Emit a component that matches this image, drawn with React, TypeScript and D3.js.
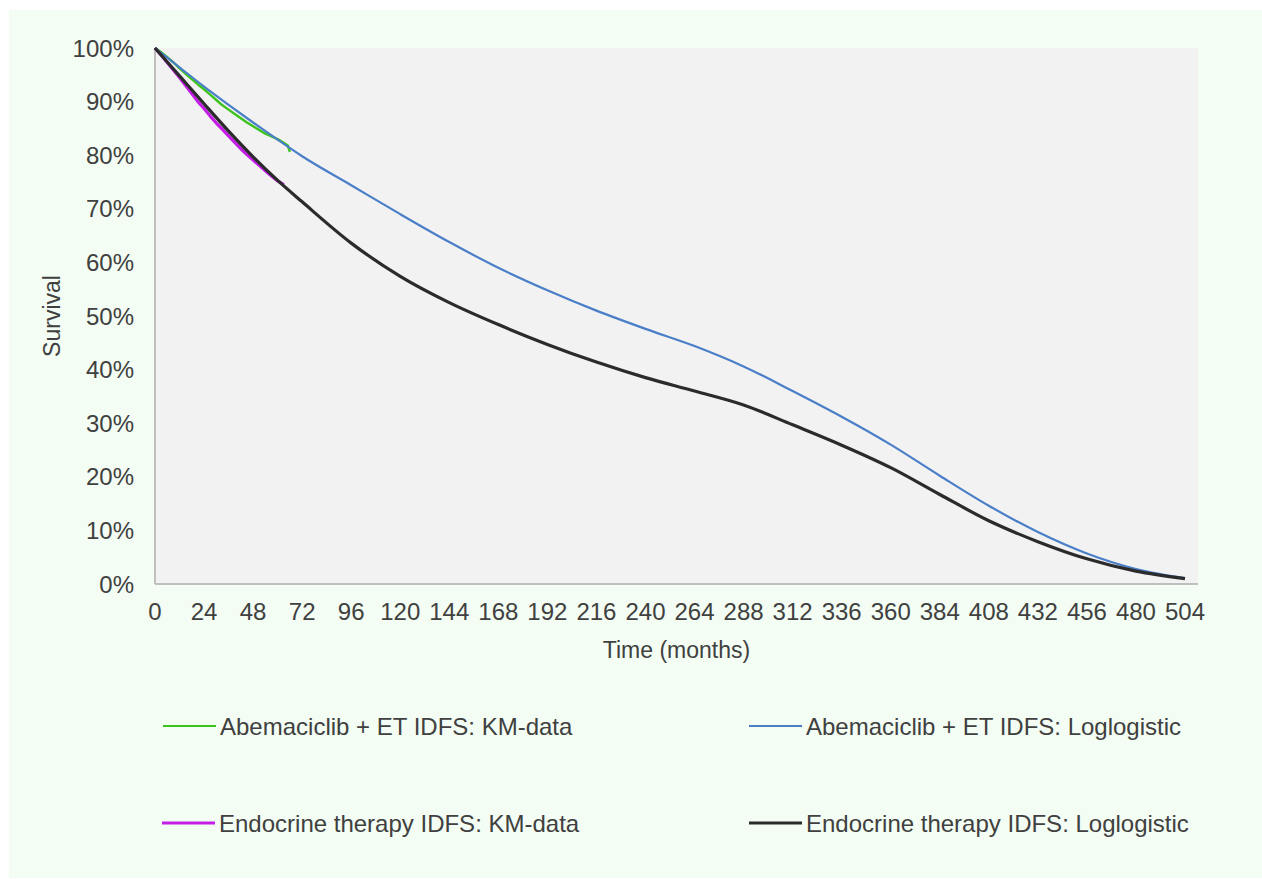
import React from "react";
import * as d3 from "d3";

// ---- Data ----
const months = [0, 12, 24, 36, 48, 60, 72, 96, 120, 144, 168, 192, 216, 240, 264, 288, 312, 336, 360, 384, 408, 432, 456, 480, 504];
const abemaLoglogistic = [100, 96.4, 92.8, 89.4, 86.1, 82.9, 79.8, 74.4, 69.0, 63.8, 59.0, 54.8, 51.0, 47.6, 44.4, 40.6, 36.0, 31.2, 26.0, 20.2, 14.6, 9.7, 5.7, 2.8, 1.1];
const etLoglogistic = [100, 94.8, 89.6, 84.5, 79.7, 75.3, 71.3, 63.6, 57.4, 52.5, 48.4, 44.7, 41.4, 38.5, 36.0, 33.4, 29.7, 25.9, 21.7, 16.7, 11.8, 7.9, 4.7, 2.4, 1.0];

const abemaKmMonths = [0, 3, 6, 9, 12, 15, 18, 21, 24, 27, 30, 33, 36, 39, 42, 45, 48, 51, 54, 57, 60, 63, 65, 66];
const abemaKm = [100, 99.2, 98.3, 97.3, 96.2, 95.2, 94.2, 93.2, 92.3, 91.3, 90.3, 89.3, 88.5, 87.7, 86.9, 86.1, 85.4, 84.7, 84.0, 83.5, 83.0, 82.3, 81.8, 80.6];
const etKmMonths = [0, 3, 6, 9, 12, 15, 18, 21, 24, 27, 30, 33, 36, 39, 42, 45, 48, 51, 54, 57, 60, 63];
const etKm = [100, 98.7, 97.3, 95.9, 94.5, 93.0, 91.5, 90.0, 88.7, 87.3, 86.0, 84.8, 83.6, 82.4, 81.2, 80.1, 79.1, 78.1, 77.1, 76.1, 75.2, 74.5];

const xTicks = d3.range(0, 505, 24);
const yTicks = d3.range(0, 101, 10);

const legendLabels = [
  "Abemaciclib + ET IDFS: KM-data",
  "Abemaciclib + ET IDFS: Loglogistic",
  "Endocrine therapy IDFS: KM-data",
  "Endocrine therapy IDFS: Loglogistic",
];

const COLORS = {
  abemaKm: "#3cc41c",
  abemaLL: "#4a7fc8",
  etKm: "#c41ee6",
  etLL: "#2b2b2b",
};

const FONT = "'Liberation Sans', Arial, Helvetica, sans-serif";
const TEXT = "#404040";

export default function App() {
  const plot = { left: 155, right: 1198, top: 48, bottom: 584 };
  const x = d3.scaleLinear().domain([0, 504]).range([155, 1185]);
  const y = d3.scaleLinear().domain([0, 100]).range([plot.bottom, plot.top]);

  const line = d3
    .line<[number, number]>()
    .x((d) => x(d[0]))
    .y((d) => y(d[1]))
    .curve(d3.curveMonotoneX);
  const lineLin = d3
    .line<[number, number]>()
    .x((d) => x(d[0]))
    .y((d) => y(d[1]));

  const zip = (a: number[], b: number[]) => a.map((v, i) => [v, b[i]] as [number, number]);

  const series = [
    { d: lineLin(zip(abemaKmMonths, abemaKm)), color: COLORS.abemaKm, w: 2.4 },
    { d: lineLin(zip(etKmMonths, etKm)), color: COLORS.etKm, w: 3.2 },
    { d: line(zip(months, abemaLoglogistic)), color: COLORS.abemaLL, w: 2.2 },
    { d: line(zip(months, etLoglogistic)), color: COLORS.etLL, w: 3.2 },
  ];

  const legend = [
    { label: legendLabels[0], color: COLORS.abemaKm, w: 2.2, x: 163, y: 726 },
    { label: legendLabels[1], color: COLORS.abemaLL, w: 2.2, x: 749, y: 726 },
    { label: legendLabels[2], color: COLORS.etKm, w: 3.2, x: 162, y: 823 },
    { label: legendLabels[3], color: COLORS.etLL, w: 3.2, x: 749, y: 823 },
  ];

  return (
    <svg
      width={1262}
      height={879}
      style={{ position: "absolute", left: 0, top: 0, display: "block" }}
      fontFamily={FONT}
    >
      <rect x={0} y={0} width={1262} height={879} fill="#ffffff" />
      <rect x={9} y={10} width={1253} height={868} fill="#f3fdf3" />
      <rect
        x={plot.left}
        y={plot.top}
        width={plot.right - plot.left}
        height={plot.bottom - plot.top}
        fill="#f2f2f2"
      />
      {/* axes lines */}
      <line x1={plot.left} x2={plot.left} y1={plot.top} y2={plot.bottom} stroke="#bfbfbf" strokeWidth={2} />
      <line x1={plot.left} x2={plot.right} y1={plot.bottom} y2={plot.bottom} stroke="#bfbfbf" strokeWidth={2} />

      {/* y tick labels */}
      {yTicks.map((t) => (
        <text key={"y" + t} x={134} y={y(t)} dy="0.36em" textAnchor="end" fontSize={24} fill={TEXT}>
          {t + "%"}
        </text>
      ))}
      {/* x tick labels */}
      {xTicks.map((t) => (
        <text key={"x" + t} x={x(t)} y={620} textAnchor="middle" fontSize={24} fill={TEXT}>
          {t}
        </text>
      ))}

      {/* axis titles */}
      <text x={(plot.left + plot.right) / 2} y={658} textAnchor="middle" fontSize={23} fill={TEXT}>
        Time (months)
      </text>
      <text
        transform={`translate(60, ${(plot.top + plot.bottom) / 2}) rotate(-90)`}
        textAnchor="middle"
        fontSize={23}
        fill={TEXT}
      >
        Survival
      </text>

      {/* series */}
      {series.map((s, i) => (
        <path key={i} d={s.d || ""} fill="none" stroke={s.color} strokeWidth={s.w} strokeLinejoin="round" />
      ))}

      {/* legend */}
      {legend.map((l, i) => (
        <g key={i}>
          <line x1={l.x} x2={l.x + 53} y1={l.y} y2={l.y} stroke={l.color} strokeWidth={l.w} />
          <text x={l.x + 57} y={l.y} dy="0.36em" fontSize={24} fill={TEXT}>
            {l.label}
          </text>
        </g>
      ))}
    </svg>
  );
}
